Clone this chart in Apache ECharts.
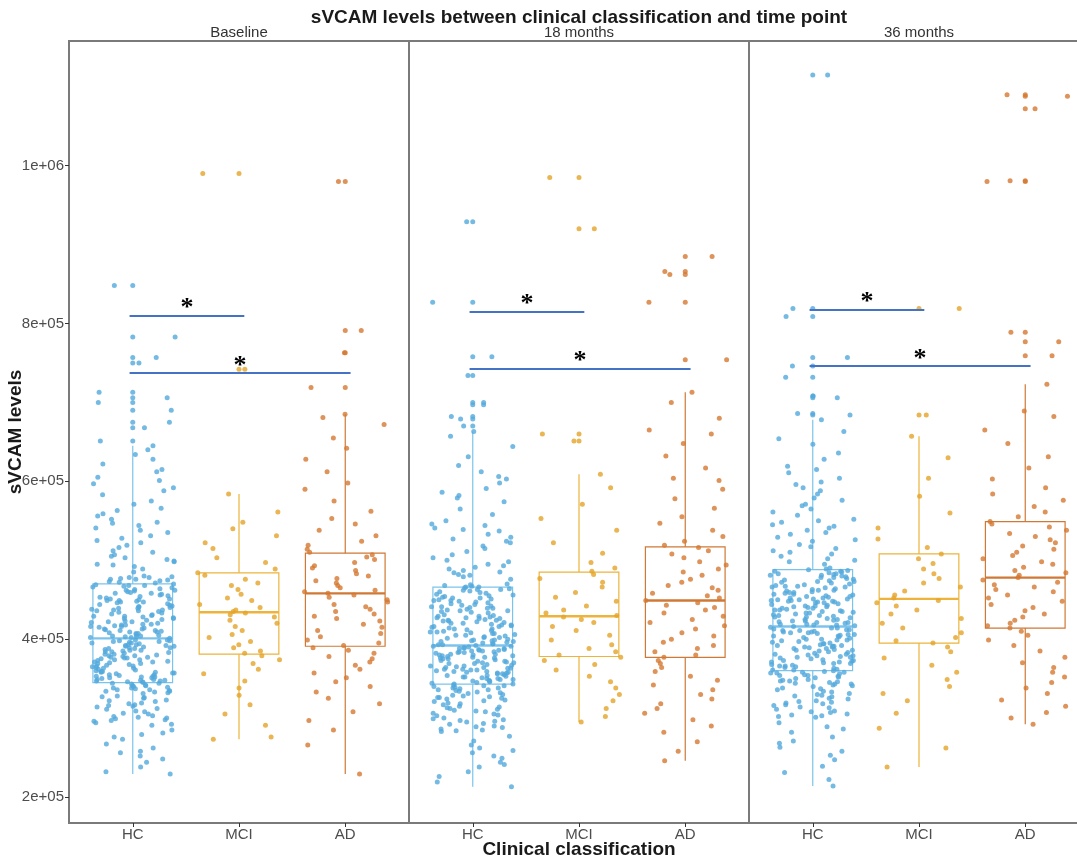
<!DOCTYPE html>
<html>
<head>
<meta charset="utf-8">
<title>sVCAM levels</title>
<script src="https://cdn.jsdelivr.net/npm/echarts@6/dist/echarts.min.js"></script>
<style>
  html, body { margin: 0; padding: 0; background: #fff; }
  #chart { width: 1077px; height: 859px; }
</style>
</head>
<body>
<div id="chart"></div>
<script>
// facets and groups
const panels = ['Baseline', '18 months', '36 months'];
const groups = ['HC', 'MCI', 'AD'];

// y ticks
const yTicks = [200000, 400000, 600000, 800000, 1000000];
const yTickLabels = ['2e+05', '4e+05', '6e+05', '8e+05', '1e+06'];

// sVCAM values, in thousands
const hcBaseline = [
  262, 301, 318, 338, 347, 355, 366, 379, 388, 395, 404, 413, 426, 437, 449, 462, 476, 498, 531, 588,
  248, 296, 325, 334, 351, 358, 363, 372, 384, 398, 407, 418, 429, 441, 453, 468, 479, 505, 547, 612,
  281, 308, 314, 341, 344, 353, 369, 376, 391, 399, 402, 411, 422, 436, 445, 458, 472, 489, 522, 571,
  848, 229, 292, 327, 336, 349, 357, 361, 382, 386, 393, 409, 416, 431, 439, 451, 464, 470, 512, 556, 634,
  273, 305, 321, 331, 346, 359, 368, 374, 381, 397, 401, 419, 424, 433, 447, 457, 478, 494, 538, 597,
  256, 298, 311, 339, 342, 352, 364, 377, 389, 394, 406, 414, 428, 442, 455, 466, 474, 501, 563, 622,
  783, 238, 303, 319, 333, 348, 356, 367, 373, 385, 392, 403, 417, 421, 438, 448, 461, 477, 516, 541, 605,
  285, 294, 316, 337, 343, 354, 362, 378, 383, 396, 408, 412, 427, 434, 452, 463, 469, 492, 528, 583,
  757, 267, 309, 323, 335, 350, 357, 371, 375, 387, 391, 405, 415, 425, 443, 446, 459, 473, 507, 552, 645,
  244, 297, 312, 340, 345, 351, 365, 380, 390, 398, 410, 420, 430, 435, 450, 467, 480, 485, 535, 575,
  713, 276, 300, 326, 332, 347, 358, 360, 371, 384, 393, 403, 418, 423, 440, 444, 456, 471, 499, 548, 615,
  252, 306, 315, 338, 349, 355, 369, 376, 388, 397, 407, 411, 432, 437, 454, 465, 475, 510, 525, 592,
  750, 232, 291, 322, 334, 344, 353, 363, 379, 386, 392, 402, 416, 426, 441, 449, 460, 478, 503, 559, 628,
  279, 302, 317, 336, 346, 359, 366, 374, 381, 395, 409, 413, 429, 436, 447, 462, 468, 495, 544, 601,
  706, 258, 299, 328, 341, 348, 352, 370, 377, 389, 399, 404, 419, 422, 439, 451, 458, 476, 519, 566, 640,
  700, 690, 675, 668, 651
];
const mciBaseline = [
  990, 452, 305, 531, 411, 742, 382, 476, 347, 584, 428, 497, 273, 440, 369, 561, 416, 489, 329, 457,
  393, 522, 356, 468, 276, 433, 402, 548, 379, 484, 317, 444, 424, 515, 362, 471, 291, 437, 389, 540,
  406, 481, 338, 463, 420, 503, 374, 449, 385, 397, 431, 435
];
const adBaseline = [
  980, 458, 318, 546, 423, 791, 389, 501, 266, 612, 441, 483, 357, 519, 403, 763, 465, 333, 590, 429,
  487, 371, 538, 411, 719, 450, 297, 562, 435, 504, 382, 685, 474, 346, 524, 415, 493, 362, 655, 444,
  229, 510, 399, 681, 468, 325, 575, 426, 497, 378, 642, 456, 308, 531, 419, 490, 367, 598, 447, 285,
  514, 395, 672, 462, 340, 553, 432, 480, 375, 628, 453, 351, 507, 407, 477, 386, 438, 471, 392, 460
];

const hc18 = [
  244, 289, 306, 326, 338, 349, 358, 366, 377, 386, 394, 402, 415, 427, 436, 449, 461, 482, 524, 598,
  929, 213, 295, 311, 331, 343, 352, 361, 372, 381, 389, 397, 409, 418, 425, 439, 452, 466, 489, 537, 631,
  262, 284, 317, 323, 336, 347, 359, 369, 375, 384, 391, 405, 413, 429, 441, 455, 463, 476, 511, 574,
  827, 238, 298, 309, 329, 341, 354, 356, 364, 379, 387, 399, 407, 420, 423, 437, 447, 468, 493, 546, 657,
  271, 286, 314, 325, 339, 350, 362, 371, 380, 388, 393, 401, 416, 428, 434, 450, 459, 485, 518, 586,
  758, 249, 292, 303, 333, 345, 348, 357, 367, 374, 383, 396, 410, 412, 426, 443, 454, 462, 498, 529, 612,
  226, 300, 318, 321, 337, 353, 360, 370, 378, 385, 392, 404, 419, 430, 438, 446, 467, 479, 541, 565,
  734, 256, 288, 305, 328, 342, 351, 363, 365, 376, 390, 398, 408, 414, 424, 440, 456, 460, 503, 533, 603,
  277, 296, 312, 330, 335, 346, 358, 368, 382, 386, 395, 403, 417, 422, 435, 451, 465, 487, 515, 644,
  700, 241, 283, 315, 324, 340, 355, 361, 373, 379, 389, 391, 406, 411, 429, 442, 448, 464, 495, 550, 579,
  232, 293, 308, 327, 344, 347, 359, 366, 375, 384, 397, 400, 421, 427, 436, 453, 469, 481, 522, 620,
  682, 266, 290, 304, 332, 338, 352, 356, 372, 377, 387, 393, 409, 413, 426, 444, 449, 458, 507, 539, 591,
  219, 297, 319, 322, 341, 349, 362, 369, 381, 388, 399, 402, 418, 423, 433, 457, 466, 484, 527, 663,
  252, 285, 310, 334, 336, 354, 357, 364, 380, 385, 394, 407, 416, 431, 439, 445, 463, 491, 544, 582,
  259, 299, 313, 326, 343, 350, 363, 370, 376, 383, 398, 405, 420, 424, 441, 452, 470, 500, 558, 606,
  697, 679, 670
];
const mci18 = [
  985, 433, 302, 522, 416, 920, 384, 482, 330, 592, 425, 490, 295, 437, 368, 571, 411, 477, 322, 448,
  388, 509, 353, 466, 312, 428, 399, 538, 377, 486, 338, 442, 421, 497, 361, 472, 346, 430, 380, 553,
  405, 459, 373, 453, 393, 609, 660, 651
];
const ad18 = [
  885, 449, 306, 538, 421, 866, 384, 498, 258, 617, 440, 481, 348, 524, 404, 862, 462, 330, 590, 425,
  489, 369, 547, 413, 827, 452, 290, 566, 433, 508, 380, 713, 472, 342, 519, 417, 494, 359, 680, 443,
  246, 512, 396, 754, 465, 318, 578, 429, 503, 373, 660, 455, 298, 530, 408, 485, 364, 604, 446, 270,
  516, 392, 700, 458, 336, 555, 437, 476, 377, 632, 468, 353, 601, 400, 282, 388, 324, 648, 312, 665
];

const hc36 = [
  268, 305, 322, 346, 358, 369, 381, 392, 401, 411, 421, 430, 442, 451, 462, 474, 486, 508, 552, 611,
  1115, 231, 311, 334, 343, 353, 366, 377, 388, 396, 408, 418, 433, 439, 448, 459, 470, 483, 517, 569, 647,
  289, 302, 328, 348, 361, 371, 385, 390, 404, 414, 425, 428, 445, 454, 466, 478, 489, 502, 538, 596,
  819, 247, 316, 319, 341, 355, 364, 379, 394, 399, 410, 419, 435, 441, 449, 457, 472, 481, 524, 561, 628,
  276, 308, 331, 350, 357, 373, 383, 386, 406, 412, 423, 431, 437, 452, 463, 468, 487, 495, 545, 588,
  809, 214, 320, 337, 344, 362, 368, 376, 391, 398, 407, 417, 427, 446, 450, 461, 476, 484, 512, 533, 663,
  258, 304, 325, 352, 359, 370, 380, 389, 403, 415, 422, 434, 438, 447, 465, 469, 480, 529, 576, 604,
  757, 282, 313, 333, 347, 354, 374, 378, 395, 400, 409, 424, 429, 443, 455, 458, 473, 488, 505, 548, 619,
  239, 301, 327, 342, 360, 365, 384, 387, 405, 413, 420, 436, 440, 453, 460, 477, 482, 498, 557, 678,
  746, 294, 318, 336, 349, 356, 372, 382, 393, 397, 411, 426, 432, 444, 448, 464, 467, 485, 520, 541, 592,
  263, 307, 321, 345, 363, 367, 375, 390, 402, 416, 418, 437, 441, 451, 456, 471, 479, 510, 565, 636,
  732, 222, 314, 330, 351, 357, 369, 386, 392, 399, 408, 421, 428, 446, 450, 462, 475, 490, 535, 579, 599,
  271, 309, 338, 343, 361, 371, 377, 388, 404, 412, 425, 433, 439, 454, 459, 466, 483, 500, 550, 615,
  708, 253, 303, 324, 347, 354, 366, 381, 394, 400, 414, 419, 430, 447, 449, 467, 473, 486, 515, 571, 654,
  286, 317, 329, 340, 358, 373, 379, 391, 406, 409, 423, 435, 442, 452, 457, 478, 481, 526, 543, 584,
  706, 686, 684
];
const mci36 = [
  819, 452, 306, 527, 420, 684, 384, 489, 331, 604, 442, 502, 238, 456, 367, 581, 426, 477, 349, 466,
  398, 516, 358, 483, 262, 446, 402, 560, 390, 496, 322, 437, 414, 508, 376, 471, 287, 449, 395, 541,
  408, 461, 340, 630, 432, 657
];
const ad36 = [
  1090, 478, 338, 546, 440, 981, 405, 510, 300, 631, 456, 495, 364, 538, 424, 789, 469, 323, 592, 444,
  502, 385, 561, 428, 1072, 481, 292, 584, 448, 518, 392, 723, 487, 352, 530, 432, 506, 370, 682, 463,
  307, 526, 410, 777, 472, 345, 576, 436, 498, 399, 648, 460, 315, 549, 420, 491, 377, 617, 452, 331,
  522, 414, 665, 466, 358, 568, 417, 484, 1088, 603, 475, 980, 514, 759, 542, 689, 555, 534
];

// box stats [lower whisker, Q1, median, Q3, upper whisker], thousands
const boxBaseline = [[229, 345, 401, 470, 645], [273, 381, 434, 484, 584], [229, 391, 458, 509, 685]];
const box18 = [[213, 343, 392, 466, 663], [295, 378, 429, 485, 609], [246, 377, 449, 517, 713]];
const box36 = [[214, 360, 416, 488, 678], [238, 395, 451, 508, 657], [292, 414, 478, 549, 723]];

// significance bars: group pairs and bar heights (thousands) per panel
const sigPairs = [[1, 2], [1, 3]];
const sigLevels = [[810, 737], [815, 743], [818, 746]];

const points = [[hcBaseline, mciBaseline, adBaseline], [hc18, mci18, ad18], [hc36, mci36, ad36]];
const boxes = [boxBaseline, box18, box36];

const pointColors = ['#52A9DC', '#E3A428', '#D4782F'];
const boxColors = ['#7CC3EC', '#EDB33A', '#D07835'];
const fontFamily = '"Liberation Sans", Arial, sans-serif';

const chart = echarts.init(document.getElementById('chart'));

// deterministic horizontal jitter (+-0.4 of a category)
function jitter(k, seed) {
  const h = Math.sin((k + 1) * 12.9898 + seed * 78.233) * 43758.5453;
  return (h - Math.floor(h) - 0.5) * 0.8;
}

function renderBox(params, api) {
  const x = api.value(0);
  const lo = api.coord([x, api.value(1)]);
  const q1 = api.coord([x, api.value(2)]);
  const med = api.coord([x, api.value(3)]);
  const q3 = api.coord([x, api.value(4)]);
  const hi = api.coord([x, api.value(5)]);
  const half = api.size([0.75, 0])[0] / 2;
  const color = boxColors[Math.round(x) - 1];
  const thin = { stroke: color, lineWidth: 1.2, fill: 'none' };
  return {
    type: 'group',
    children: [
      { type: 'line', shape: { x1: hi[0], y1: hi[1], x2: q3[0], y2: q3[1] }, style: thin },
      { type: 'line', shape: { x1: q1[0], y1: q1[1], x2: lo[0], y2: lo[1] }, style: thin },
      { type: 'rect', shape: { x: q3[0] - half, y: q3[1], width: half * 2, height: q1[1] - q3[1] }, style: thin },
      { type: 'line', shape: { x1: med[0] - half, y1: med[1], x2: med[0] + half, y2: med[1] }, style: { stroke: color, lineWidth: 2.4 } }
    ]
  };
}

const grid = [], xAxis = [], yAxis = [], series = [];
const title = [{
  text: 'sVCAM levels between clinical classification and time point',
  left: 579, top: 8, textAlign: 'center', padding: 0,
  textStyle: { fontSize: 19, fontWeight: 'bold', color: '#1a1a1a', fontFamily }
}];

panels.forEach((name, i) => {
  grid.push({
    left: 69 + i * 340, top: 41, width: 340, height: 782,
    outerBoundsMode: 'none', containLabel: false,
    show: true, borderColor: '#7a7a7a', borderWidth: 2, backgroundColor: 'transparent'
  });
  title.push({
    text: name, left: 239 + i * 340, top: 25, textAlign: 'center', padding: 0,
    textStyle: { fontSize: 15, fontWeight: 'normal', color: '#333', fontFamily }
  });
  xAxis.push({
    type: 'value', gridIndex: i, min: 0.4, max: 3.6,
    axisLine: { show: false }, splitLine: { show: false },
    axisTick: { show: true, customValues: [1, 2, 3], length: 4, lineStyle: { color: '#333' } },
    axisLabel: {
      customValues: [1, 2, 3], margin: 4, fontSize: 15, color: '#4d4d4d', fontFamily,
      formatter: v => groups[Math.round(v) - 1]
    },
    name: i === 1 ? 'Clinical classification' : '',
    nameLocation: 'middle', nameGap: 17, nameMoveOverlap: false,
    nameTextStyle: { fontSize: 19, fontWeight: 'bold', color: '#1a1a1a', fontFamily }
  });
  yAxis.push({
    type: 'value', gridIndex: i, min: 167000, max: 1158000, show: i === 0,
    axisLine: { show: false }, splitLine: { show: false },
    axisTick: { show: true, customValues: yTicks, length: 4, lineStyle: { color: '#333' } },
    axisLabel: {
      customValues: yTicks, margin: 5, fontSize: 15, color: '#4d4d4d', fontFamily,
      formatter: v => yTickLabels[yTicks.findIndex(t => Math.abs(t - v) < 1)]
    },
    name: 'sVCAM levels', nameLocation: 'middle', nameGap: 44, nameRotate: 90, nameMoveOverlap: false,
    nameTextStyle: { fontSize: 19, fontWeight: 'bold', color: '#1a1a1a', fontFamily }
  });

  // boxes
  series.push({
    type: 'custom', xAxisIndex: i, yAxisIndex: i, z: 2, silent: true,
    renderItem: renderBox,
    encode: { x: 0, y: [1, 2, 3, 4, 5] },
    data: boxes[i].map((s, g) => [g + 1].concat(s.map(v => v * 1000)))
  });

  // jittered points + outliers at the box centre
  groups.forEach((grp, g) => {
    const stat = boxes[i][g];
    const vals = points[i][g];
    const jit = vals.map((v, k) => [g + 1 + jitter(k, i * 3 + g + 1), v * 1000]);
    const out = vals.filter(v => v > stat[4] || v < stat[0]).map(v => [g + 1, v * 1000]);
    series.push({
      type: 'scatter', name: grp, xAxisIndex: i, yAxisIndex: i, z: 3, silent: true,
      symbolSize: 5,
      itemStyle: { color: pointColors[g], opacity: 0.8 },
      data: jit.concat(out)
    });
  });

  // significance bars
  series.push({
    type: 'scatter', xAxisIndex: i, yAxisIndex: i, z: 5, data: [],
    markLine: {
      silent: true, symbol: ['none', 'none'],
      lineStyle: { color: '#4472C4', width: 2, type: 'solid' },
      label: {
        show: true, position: 'middle', formatter: '*', distance: -6,
        fontSize: 26, fontWeight: 'bold', color: '#000', fontFamily: '"Liberation Serif", serif'
      },
      emphasis: { disabled: true },
      data: sigPairs.map((pr, j) => [
        { coord: [pr[0] - 0.03, sigLevels[i][j] * 1000] },
        { coord: [pr[1] + 0.05, sigLevels[i][j] * 1000] }
      ])
    }
  });
});

chart.setOption({
  animation: false,
  backgroundColor: '#fff',
  title, grid, xAxis, yAxis, series
});
</script>
</body>
</html>
